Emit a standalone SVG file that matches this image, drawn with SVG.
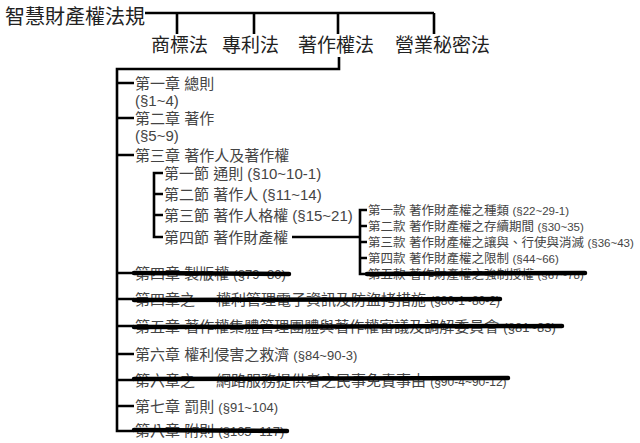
<svg xmlns="http://www.w3.org/2000/svg" width="640" height="443" viewBox="0 0 640 443">
<style>
text{font-family:"Liberation Sans","Noto Sans CJK TC",sans-serif;}
.t0{font-size:20px;fill:#222;}
.t1{font-size:19px;fill:#222;}
.ch{font-size:15px;fill:#444;}
.ss{font-size:12.5px;fill:#444;}
.lat{font-size:13px;}
.lat3{font-size:12px;}
.lat2{font-size:11.5px;}
.c{fill:none;stroke:#000;stroke-width:2.6;}
.st{fill:none;stroke:#000;stroke-width:4.5;stroke-linecap:round;}
</style>
<rect width="640" height="443" fill="#fff"/>
<g id="connectors">
<path class="c" d="M145 13H434M177 13V34M254 13V34M338 13V34M434 13V34"/>
<path class="c" d="M339 57V69H117V431H134"/>
<path class="c" d="M117 83H134M117 118H134M117 155H134M117 273H134M117 299H134M117 326H134M117 354H134M117 380H134M117 406H134"/>
<path class="c" d="M163 173H154V237H163M154 194H163M154 215H163"/>
<path class="c" d="M292 237H360M367 210H360V274H367M360 226H367M360 242H367M360 258H367"/>
</g>
<g id="root"><text class="t0" x="5" y="24">智慧財產權法規</text></g>
<g id="law1"><text class="t1" x="151" y="52">商標法</text></g>
<g id="law2"><text class="t1" x="222" y="52">專利法</text></g>
<g id="law3"><text class="t1" x="298" y="52">著作權法</text></g>
<g id="law4"><text class="t1" x="395" y="52">營業秘密法</text></g>
<g id="ch1"><text class="ch" x="135" y="89">第一章 總則</text><text class="ch" x="135" y="106">(§1~4)</text></g>
<g id="ch2"><text class="ch" x="135" y="124">第二章 著作</text><text class="ch" x="135" y="141">(§5~9)</text></g>
<g id="ch3"><text class="ch" x="135" y="161">第三章 著作人及著作權</text></g>
<g id="s1"><text class="ch" x="164" y="179">第一節 通則 (§10~10-1)</text></g>
<g id="s2"><text class="ch" x="164" y="200">第二節 著作人 (§11~14)</text></g>
<g id="s3"><text class="ch" x="164" y="221">第三節 著作人格權 (§15~21)</text></g>
<g id="s4"><text class="ch" x="164" y="243">第四節 著作財產權</text></g>
<g id="k1"><text class="ss" x="368" y="215">第一款 著作財產權之種類 <tspan class="lat2">(§22~29-1)</tspan></text></g>
<g id="k2"><text class="ss" x="368" y="231">第二款 著作財產權之存續期間 <tspan class="lat2">(§30~35)</tspan></text></g>
<g id="k3"><text class="ss" x="368" y="247">第三款 著作財產權之讓與、行使與消滅 <tspan class="lat2">(§36~43)</tspan></text></g>
<g id="k4"><text class="ss" x="368" y="263">第四款 著作財產權之限制 <tspan class="lat2">(§44~66)</tspan></text></g>
<g id="k5"><text class="ss" x="368" y="279">第五款 著作財產權之強制授權 <tspan class="lat2">(§67~78)</tspan></text></g>
<g id="ch4"><text class="ch" x="135" y="279">第四章 製版權 <tspan class="lat">(§79~80)</tspan></text></g>
<g id="ch4a"><text class="ch" x="135" y="305">第四章之一<tspan dx="6">權利管理電子資訊及防盜拷措施</tspan> <tspan class="lat3">(§80-1~80-2)</tspan></text></g>
<g id="ch5"><text class="ch" x="135" y="332">第五章 著作權集體管理團體與著作權審議及調解委員會 <tspan class="lat">(§81~83)</tspan></text></g>
<g id="ch6"><text class="ch" x="135" y="360">第六章 權利侵害之救濟 <tspan class="lat">(§84~90-3)</tspan></text></g>
<g id="ch6a"><text class="ch" x="135" y="386">第六章之一<tspan dx="6">網路服務提供者之民事免責事由</tspan> <tspan class="lat3">(§90-4~90-12)</tspan></text></g>
<g id="ch7"><text class="ch" x="135" y="412">第七章 罰則 <tspan class="lat">(§91~104)</tspan></text></g>
<g id="ch8"><text class="ch" x="135" y="436">第八章 附則 <tspan class="lat">(§105~117)</tspan></text></g>
<g id="strikes">
<path class="st" d="M134 273L289 274"/>
<path class="st" d="M367 274L585 273"/>
<path class="st" d="M134 300L500 299"/>
<path class="st" d="M134 327L562 326"/>
<path class="st" d="M134 379L508 378"/>
<path class="st" d="M134 430L287 431"/>
</g>
</svg>
